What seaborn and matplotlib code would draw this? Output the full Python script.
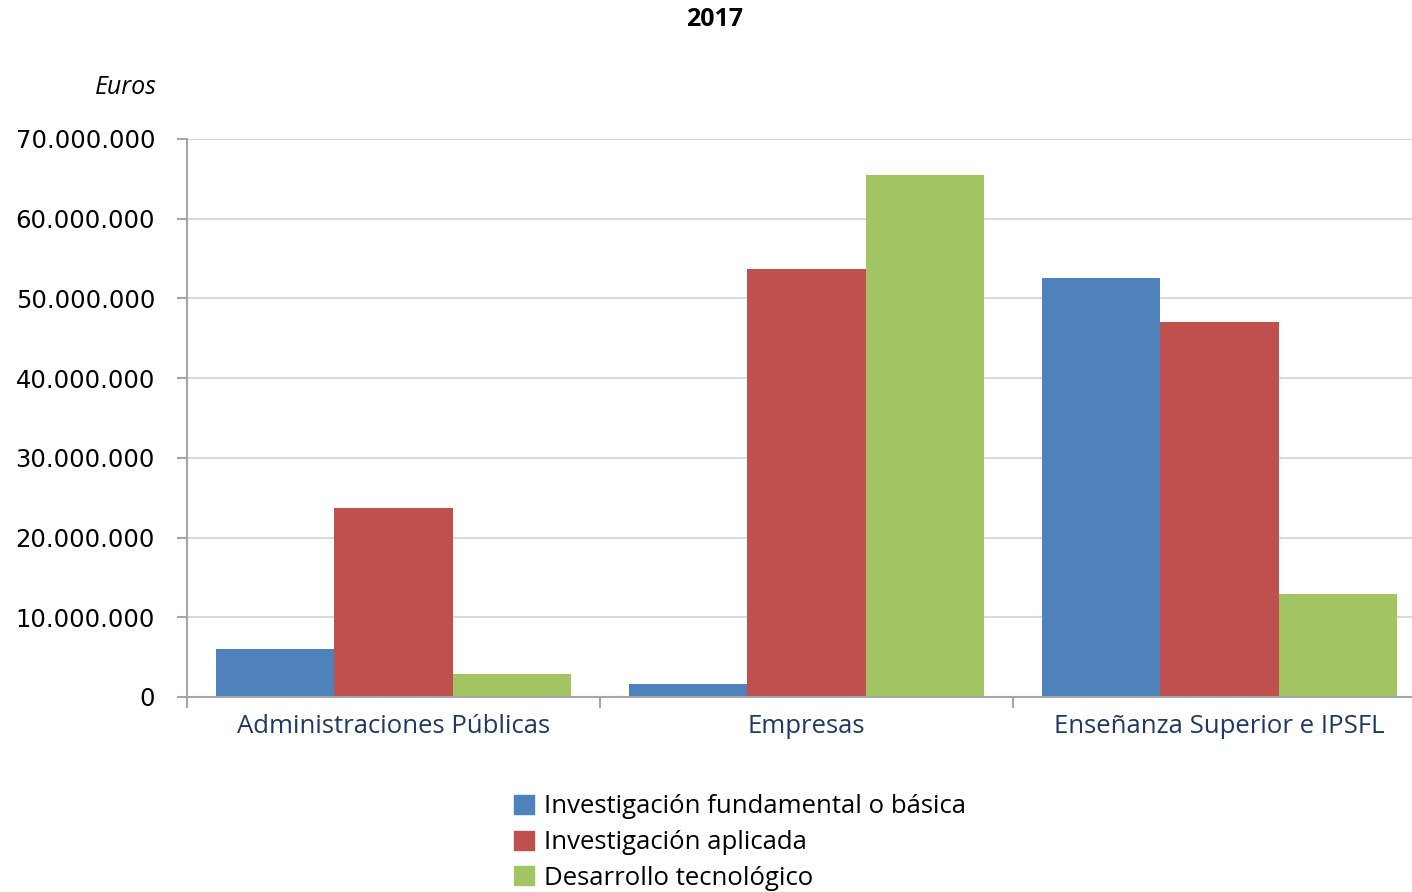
import matplotlib
matplotlib.use('Agg')
import matplotlib.pyplot as plt
import matplotlib.ticker as mticker
import pandas as pd
import seaborn as sns

# Datos (euros, 2017)
sectores = ['Administraciones Públicas', 'Empresas', 'Enseñanza Superior e IPSFL']
tipos = ['Investigación fundamental o básica', 'Investigación aplicada', 'Desarrollo tecnológico']
basica = [6_000_000, 1_600_000, 52_600_000]
aplicada = [23_700_000, 53_700_000, 47_000_000]
desarrollo = [2_900_000, 65_500_000, 12_900_000]
colores = ['#4F81BD', '#C0504D', '#A3C462']

df = pd.DataFrame({
    'sector': sectores * 3,
    'tipo': [t for t in tipos for _ in sectores],
    'euros': basica + aplicada + desarrollo,
})

sns.set_style('white')
plt.rcParams['font.family'] = ['Open Sans', 'DejaVu Sans']
plt.rcParams['text.color'] = 'black'
plt.rcParams['xtick.color'] = 'black'
plt.rcParams['ytick.color'] = 'black'

fig = plt.figure(figsize=(14.12, 8.92), dpi=100)
ax = fig.add_axes([187 / 1412, 1 - 697 / 892, 1239 / 1412, (697 - 139) / 892])

sns.barplot(data=df, x='sector', y='euros', hue='tipo', hue_order=tipos,
            palette=colores, saturation=1, width=0.86, linewidth=0, ax=ax,
            legend=True)

ax.set_xlim(-0.5, 2.5)
ax.set_ylim(0, 70_000_000)
ax.yaxis.set_major_locator(mticker.MultipleLocator(10_000_000))
ax.yaxis.set_major_formatter(mticker.FuncFormatter(lambda v, p: f"{int(v):,}".replace(',', '.')))
ax.grid(axis='y', color='#D9D9D9', linewidth=1.5)
ax.set_axisbelow(True)

for s in ['top', 'right']:
    ax.spines[s].set_visible(False)
for s in ['left', 'bottom']:
    ax.spines[s].set_color('#A6A6A6')
    ax.spines[s].set_linewidth(1.5)

# separadores de categoría en el eje x
ax.set_xticks([-0.5, 0.5, 1.5, 2.5])
ax.set_xticklabels([])
ax.set_xticks([0, 1, 2], minor=True)
ax.set_xticklabels(sectores, minor=True, fontsize=18.5, color='#1F3864')
ax.tick_params(axis='x', which='major', direction='out', length=8, width=1.5, color='#A6A6A6', bottom=True)
ax.tick_params(axis='x', which='minor', length=0, pad=12)
ax.tick_params(axis='y', direction='out', length=7, width=1.5, color='#A6A6A6',
               labelcolor='black', left=True, pad=16)
for lbl in ax.get_yticklabels():
    lbl.set_family('DejaVu Sans')
    lbl.set_fontsize(17.5)
ax.set_xlabel('')
ax.set_ylabel('')

ax.get_legend().remove()
handles = [plt.Rectangle((0, 0), 1, 1, color=c) for c in colores]
fig.legend(handles, tipos, loc='upper left', bbox_to_anchor=(504 / 1412, 1 - 784 / 892),
           frameon=False, fontsize=18.5, handlelength=0.75, handleheight=0.75,
           handletextpad=0.4, labelspacing=0.42, borderaxespad=0)

fig.text(715 / 1412, 1 - 20 / 892, '2017', ha='center', va='center',
         fontsize=18, fontweight='bold')
fig.text(157 / 1412, 1 - 88 / 892, 'Euros', ha='right', va='center',
         fontsize=18, style='italic')

fig.savefig('out.png', dpi=100)
